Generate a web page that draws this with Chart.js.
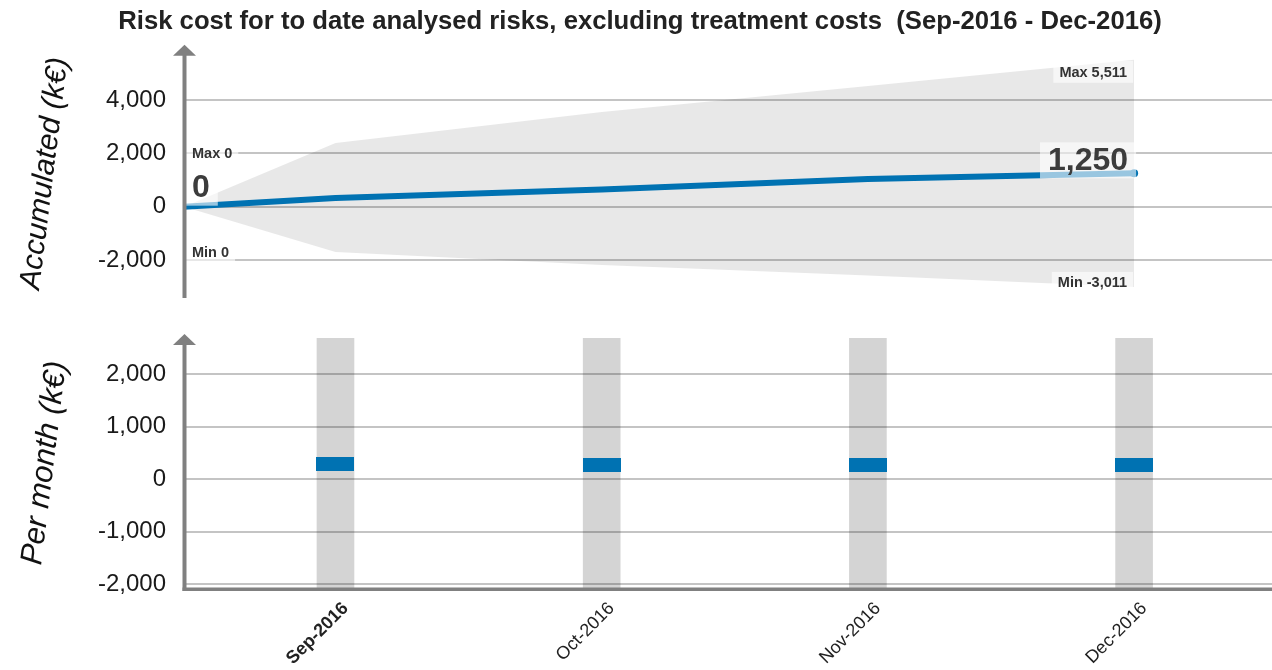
<!DOCTYPE html>
<html>
<head>
<meta charset="utf-8">
<script src="https://cdn.jsdelivr.net/npm/chart.js@4.4.0/dist/chart.umd.min.js"></script>
<style>
    html, body { margin: 0; padding: 0; background: #fff; }
    #wrap { position: relative; width: 1272px; height: 670px; }
    #topChart { position: absolute; left: 0; top: 0; }
    #botChart { position: absolute; left: 0; top: 300px; }
</style>
</head>
<body>
<div id="wrap">
    <canvas id="topChart" width="1272" height="300"></canvas>
    <canvas id="botChart" width="1272" height="370"></canvas>
</div>
<script>
// data (k€)
const months = ['Sep-2016', 'Oct-2016', 'Nov-2016', 'Dec-2016']
const monthPos = [0, 1, 2, 3]
const accumulated = [0, 330, 640, 1040, 1250]      // first value = start of period
const accumulatedMax = [0, 2390, 3550, 4530, 5511]
const accumulatedMin = [0, -1700, -2190, -2580, -3011]
const perMonth = [300, 280, 280, 280]
const perMonthMax = [3000, 3000, 3000, 3000]
const perMonthMin = [-3000, -3000, -3000, -3000]
const accTicks = [-2000, 0, 2000, 4000]
const monthTicks = [-2000, -1000, 0, 1000, 2000]

const X_MIN = -0.569
const X_MAX = 3.518
const BLUE = '#0072b2'
const FONT = '"Liberation Sans", Arial, sans-serif'

const startPos = [X_MIN, ...monthPos]
const toPoints = (arr) => arr.map((v, i) => ({x: startPos[i], y: v}))
const fmt = (v) => Math.round(v).toLocaleString('en-US')

/**
 * Draws text with a translucent white box behind it
 */
function boxText(ctx, text, x, y, align, font, color, padX, halfH)
{
    ctx.save()
    ctx.font = font
    const w = ctx.measureText(text).width
    const left = align === 'right' ? x - w : x
    ctx.fillStyle = 'rgba(255, 255, 255, 0.6)'
    ctx.fillRect(left - padX, y - halfH, w + padX * 2, halfH * 2)
    ctx.fillStyle = color
    ctx.textAlign = align
    ctx.textBaseline = 'middle'
    ctx.fillText(text, x, y + 1)
    ctx.restore()
}

// gray y axis with an arrow head and a slanted italic axis title
function axisPlugin(title, size, withBottom)
{
    return {
        id: 'axisDeco',
        afterDraw(chart) {
            const ctx = chart.ctx
            const a = chart.chartArea
            const ax = a.left + 0.5
            ctx.save()
            ctx.fillStyle = '#808080'
            const bottom = withBottom ? a.bottom + 3 : a.bottom
            ctx.fillRect(ax - 2, a.top + 6, 4, bottom - a.top - 6)
            ctx.beginPath()
            ctx.moveTo(ax, a.top - 4)
            ctx.lineTo(ax + 11.5, a.top + 7)
            ctx.lineTo(ax - 11.5, a.top + 7)
            ctx.closePath()
            ctx.fill()
            if (withBottom) {
                ctx.fillRect(ax - 2, a.bottom - 0.5, chart.width - ax + 2, 3.5)
            }
            ctx.translate(45, (a.top + a.bottom) / 2)
            ctx.rotate(-83 * Math.PI / 180)
            ctx.font = 'italic ' + size + 'px ' + FONT
            ctx.fillStyle = '#111'
            ctx.textAlign = 'center'
            ctx.textBaseline = 'middle'
            ctx.fillText(title, 0, 0)
            ctx.restore()
        }
    }
}

// value labels on the accumulated chart
const accLabels = {
    id: 'accLabels',
    afterDatasetsDraw(chart) {
        const ctx = chart.ctx
        const line = chart.getDatasetMeta(0).data
        const up = chart.getDatasetMeta(1).data
        const lo = chart.getDatasetMeta(2).data
        const n = line.length - 1
        const small = 'bold 14.5px ' + FONT
        const big = 'bold 32px ' + FONT

        boxText(ctx, 'Max ' + fmt(accumulatedMax[0]), up[0].x + 8, up[0].y - 54, 'left', small, '#333', 6, 11)
        boxText(ctx, 'Min ' + fmt(accumulatedMin[0]), lo[0].x + 8, lo[0].y + 45, 'left', small, '#333', 6, 11)
        boxText(ctx, 'Max ' + fmt(accumulatedMax[n]), up[n].x - 7, up[n].y + 12, 'right', small, '#333', 6, 11)
        boxText(ctx, 'Min ' + fmt(accumulatedMin[n]), lo[n].x - 7, lo[n].y - 5, 'right', small, '#333', 6, 10)

        boxText(ctx, fmt(accumulated[0]), line[0].x + 8, line[0].y - 20, 'left', big, '#3c3c3c', 8, 19)
        boxText(ctx, fmt(accumulated[n]), line[n].x - 6, line[n].y - 13, 'right', big, '#3c3c3c', 8, 18)
    }
}

const yTicks = {
    color: '#1a1a1a',
    padding: 18,
    font: {family: FONT, size: 24},
    callback: (v) => fmt(v)
}
const yGrid = {color: '#c4c4c4', lineWidth: 2, drawTicks: false}
// fixed axis width, no extra room asked for the end labels
const fitY = (w) => (s) => {
    s.width = w
    s.paddingTop = 0
    s.paddingBottom = 0
}

// Chart 1: accumulated
const ctx_top = document.getElementById('topChart').getContext('2d')
const topChart = new Chart(ctx_top, {
    type: 'line',
    data: {
        datasets: [
            {
                label: 'Accumulated',
                data: toPoints(accumulated),
                borderColor: BLUE,
                backgroundColor: BLUE,
                borderWidth: 6,
                pointRadius: accumulated.map((v, i) => i === accumulated.length - 1 ? 4 : 0),
                pointBorderWidth: 0,
                tension: 0,
                fill: false
            },
            {
                label: 'Max',
                data: toPoints(accumulatedMax),
                borderWidth: 0,
                pointRadius: 0,
                backgroundColor: 'rgba(0, 0, 0, 0.09)',
                fill: '+1'
            },
            {
                label: 'Min',
                data: toPoints(accumulatedMin),
                borderWidth: 0,
                pointRadius: 0,
                fill: false
            }
        ]
    },
    options: {
        responsive: false,
        animation: false,
        devicePixelRatio: 1,
        layout: {autoPadding: false, padding: {top: 0, bottom: 2, left: 8, right: 0}},
        plugins: {
            legend: {display: false},
            tooltip: {enabled: false},
            title: {
                display: true,
                text: 'Risk cost for to date analysed risks, excluding treatment costs  (Sep-2016 - Dec-2016)',
                color: '#222',
                font: {family: FONT, size: 25.7, weight: 'bold'},
                padding: {top: 6, bottom: 12}
            }
        },
        scales: {
            x: {type: 'linear', min: X_MIN, max: X_MAX, display: false},
            y: {
                min: -3425,
                max: 5920,
                ticks: yTicks,
                grid: yGrid,
                border: {display: false},
                afterBuildTicks: (s) => { s.ticks = accTicks.map(v => ({value: v})) },
                afterFit: fitY(176)
            }
        }
    },
    plugins: [accLabels, axisPlugin('Accumulated (k\u20ac)', 30, false)]
})

// Chart 2: per month
const marker = document.createElement('canvas')
marker.width = 38
marker.height = 14
const mctx = marker.getContext('2d')
mctx.fillStyle = BLUE
mctx.fillRect(0, 0, 38, 14)

const ctx_bot = document.getElementById('botChart').getContext('2d')
const botChart = new Chart(ctx_bot, {
    type: 'bar',
    data: {
        datasets: [
            {
                type: 'scatter',
                label: 'Per month',
                data: perMonth.map((v, i) => ({x: monthPos[i], y: v})),
                pointStyle: marker,
                pointRadius: 5,
                showLine: false
            },
            {
                type: 'bar',
                label: 'Range',
                data: monthPos.map((p, i) => ({x: p, y: [perMonthMin[i], perMonthMax[i]]})),
                backgroundColor: 'rgba(0, 0, 0, 0.17)',
                barThickness: 37,
                borderWidth: 0
            }
        ]
    },
    options: {
        responsive: false,
        animation: false,
        devicePixelRatio: 1,
        layout: {autoPadding: false, padding: {top: 38, bottom: 0, left: 0, right: 0}},
        plugins: {
            legend: {display: false},
            tooltip: {enabled: false}
        },
        scales: {
            x: {
                type: 'linear',
                min: X_MIN,
                max: X_MAX,
                offset: false,
                grid: {display: false, drawTicks: false, offset: false},
                border: {display: false},
                ticks: {
                    autoSkip: false,
                    minRotation: 45,
                    maxRotation: 45,
                    padding: 10,
                    labelOffset: 10,
                    color: '#222',
                    font: (c) => ({family: FONT, size: 18, weight: c.index === 0 ? 'bold' : 'normal'}),
                    callback: (v) => months[monthPos.indexOf(v)]
                },
                afterBuildTicks: (s) => { s.ticks = monthPos.map(v => ({value: v})) },
                afterFit: (s) => {
                    s.height = 82
                    s.paddingLeft = 0
                    s.paddingRight = 0
                }
            },
            y: {
                min: -2070,
                max: 2690,
                ticks: yTicks,
                grid: yGrid,
                border: {display: false},
                afterBuildTicks: (s) => { s.ticks = monthTicks.map(v => ({value: v})) },
                afterFit: fitY(184)
            }
        }
    },
    plugins: [axisPlugin('Per month (k\u20ac)', 31, true)]
})
</script>
</body>
</html>
